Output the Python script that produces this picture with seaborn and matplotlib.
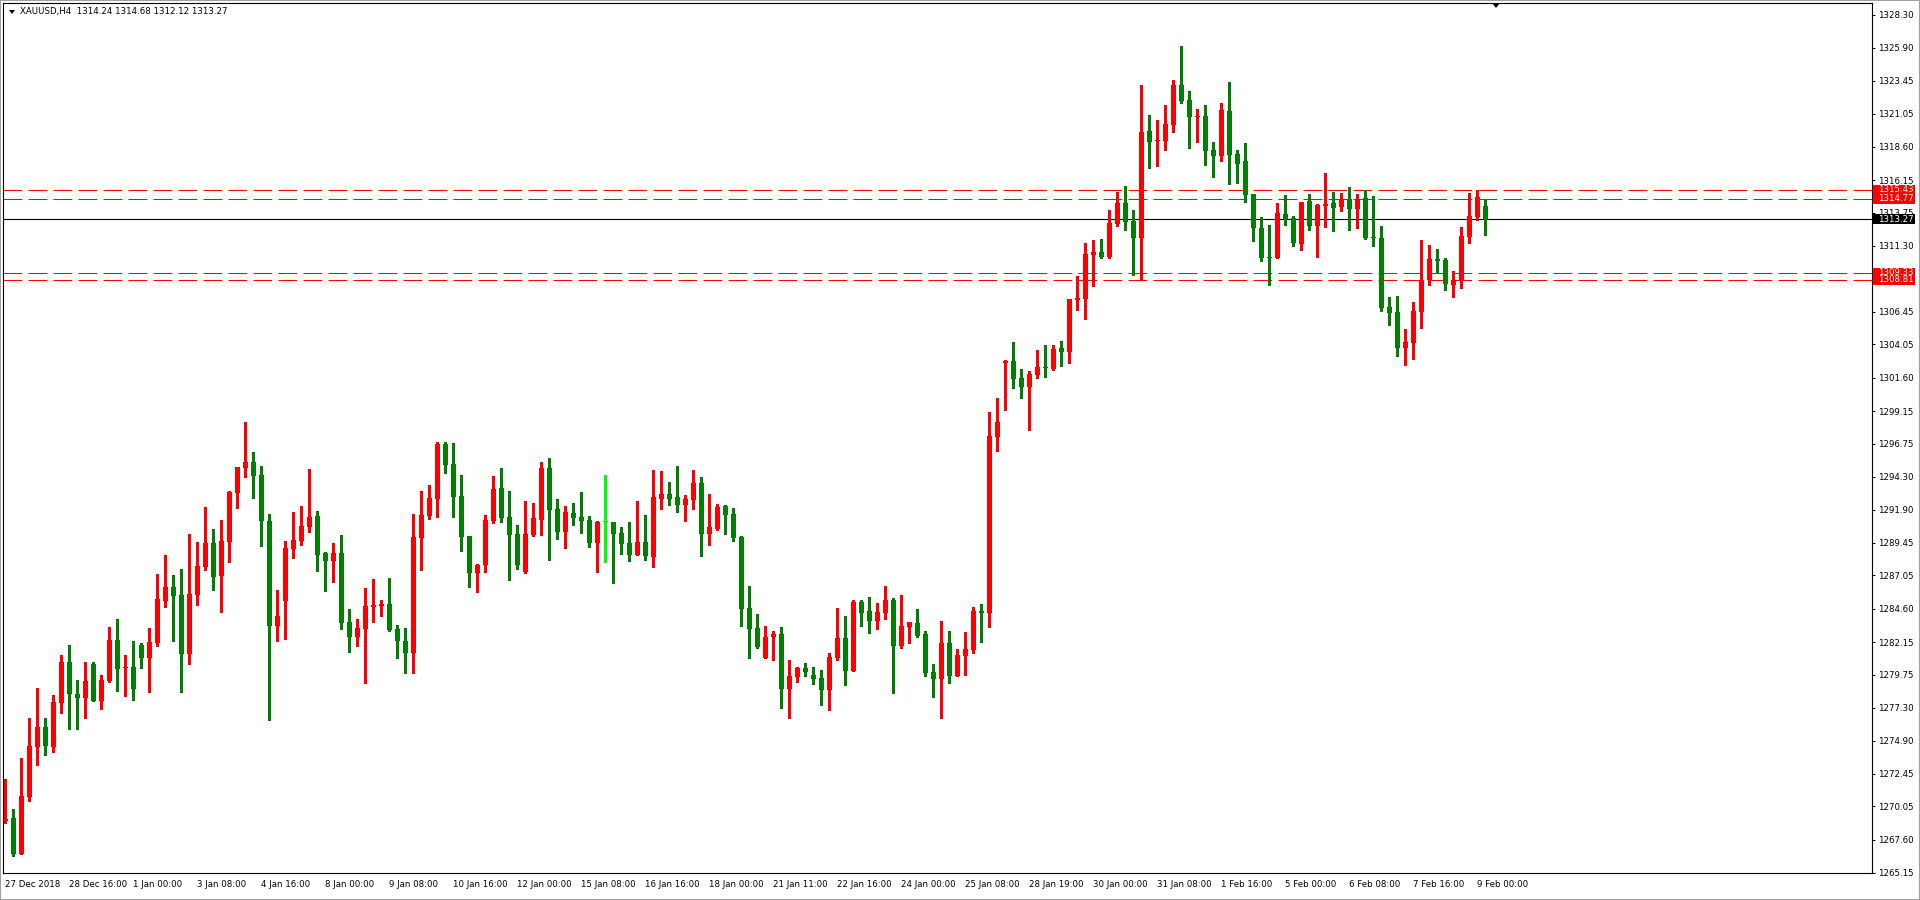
import numpy as np
import pandas as pd
import matplotlib
matplotlib.use("Agg")
import matplotlib.pyplot as plt
import seaborn as sns
from matplotlib.patches import Rectangle, Polygon
import matplotlib.transforms as mtransforms

# ---------------- data (XAUUSD, H4) ----------------
opens = [1269.00, 1269.20, 1266.55, 1270.77, 1274.45, 1275.90, 1274.45, 1277.69, 1280.68, 1278.32,
         1278.05, 1280.53, 1277.83, 1279.28, 1282.30, 1280.26, 1280.31, 1281.93, 1281.00, 1282.08,
         1285.17, 1286.20, 1285.61, 1281.27, 1285.61, 1287.67, 1289.44, 1287.01, 1289.51, 1293.12,
         1294.96, 1295.40, 1294.44, 1291.06, 1283.33, 1285.17, 1289.00, 1289.58, 1290.61, 1291.42,
         1288.70, 1288.11, 1288.70, 1283.62, 1282.52, 1283.11, 1284.73, 1284.80, 1284.95, 1283.11,
         1282.23, 1281.34, 1289.80, 1291.42, 1292.67, 1296.72, 1295.25, 1292.89, 1289.95, 1287.23,
         1287.82, 1291.06, 1293.48, 1291.36, 1290.11, 1287.31, 1290.03, 1291.14, 1294.96, 1291.95,
         1290.25, 1291.65, 1291.36, 1291.14, 1289.44, 1290.96, 1290.99, 1290.18, 1289.44, 1288.56,
         1289.52, 1288.41, 1292.68, 1293.05, 1292.83, 1292.24, 1292.61, 1293.86, 1290.11, 1290.47,
         1292.17, 1291.58, 1289.89, 1284.66, 1283.19, 1280.98, 1282.53, 1282.75, 1278.70, 1279.58,
         1280.25, 1279.73, 1279.51, 1278.63, 1280.98, 1282.45, 1280.03, 1285.10, 1284.44, 1283.70,
         1284.29, 1285.25, 1281.87, 1283.26, 1283.56, 1282.75, 1279.95, 1279.44, 1282.09, 1279.66,
         1281.13, 1281.57, 1284.44, 1284.29, 1297.25, 1302.69, 1302.84, 1301.59, 1300.93, 1301.81,
         1302.40, 1302.25, 1303.80, 1303.50, 1307.33, 1307.40, 1310.64, 1310.86, 1310.50, 1312.92,
         1314.47, 1313.14, 1311.89, 1319.77, 1319.03, 1319.03, 1320.21, 1323.15, 1322.05, 1320.80,
         1320.87, 1318.37, 1317.93, 1321.24, 1318.07, 1317.56, 1315.13, 1312.63, 1310.49, 1310.42,
         1313.66, 1313.36, 1311.45, 1314.61, 1312.77, 1314.27, 1314.47, 1314.17, 1314.76, 1314.02,
         1314.83, 1311.96, 1311.89, 1306.81, 1306.44, 1303.80, 1304.16, 1306.44, 1308.80, 1310.34,
         1310.27, 1308.43, 1308.73, 1311.96, 1313.44, 1314.24]
highs = [1272.07, 1269.86, 1273.61, 1276.56, 1278.77, 1276.56, 1278.25, 1281.17, 1281.93, 1279.36,
         1280.68, 1280.68, 1279.72, 1283.25, 1283.84, 1281.19, 1282.23, 1282.08, 1283.18, 1287.16,
         1288.55, 1287.08, 1287.52, 1290.10, 1289.51, 1292.09, 1290.47, 1291.13, 1293.26, 1295.03,
         1298.34, 1296.13, 1295.10, 1291.57, 1285.98, 1289.58, 1291.72, 1292.16, 1294.88, 1291.79,
         1288.77, 1289.44, 1290.03, 1284.58, 1283.84, 1286.13, 1286.79, 1285.24, 1286.86, 1283.40,
         1283.18, 1291.57, 1293.26, 1293.71, 1296.87, 1296.87, 1296.80, 1294.44, 1289.95, 1287.89,
         1291.50, 1294.37, 1294.96, 1293.27, 1290.77, 1292.54, 1292.39, 1295.41, 1295.70, 1292.68,
         1292.17, 1292.39, 1293.20, 1291.43, 1291.06, 1294.45, 1290.99, 1290.62, 1290.99, 1292.54,
         1291.51, 1294.82, 1294.74, 1293.93, 1295.11, 1292.98, 1294.82, 1294.30, 1293.05, 1292.31,
         1292.24, 1292.02, 1289.96, 1286.28, 1284.22, 1283.34, 1282.97, 1283.26, 1280.84, 1280.32,
         1280.61, 1280.32, 1280.10, 1281.35, 1284.66, 1284.07, 1285.25, 1285.25, 1285.47, 1285.03,
         1286.28, 1285.40, 1285.62, 1283.63, 1284.59, 1282.97, 1280.54, 1283.70, 1282.97, 1281.65,
         1282.90, 1284.74, 1284.96, 1299.09, 1300.12, 1302.91, 1304.24, 1302.25, 1302.11, 1303.65,
         1304.02, 1304.02, 1304.31, 1307.40, 1309.10, 1311.53, 1311.75, 1311.82, 1313.95, 1315.28,
         1315.72, 1313.95, 1323.15, 1320.94, 1320.58, 1321.68, 1323.52, 1326.02, 1322.71, 1321.39,
         1321.68, 1318.96, 1321.83, 1323.37, 1318.37, 1318.88, 1315.13, 1313.44, 1312.85, 1314.47,
         1315.05, 1313.51, 1314.54, 1315.13, 1314.39, 1316.67, 1315.28, 1315.20, 1315.64, 1315.13,
         1315.42, 1314.98, 1312.77, 1307.55, 1307.62, 1305.19, 1307.18, 1311.74, 1311.38, 1311.08,
         1310.42, 1309.46, 1312.70, 1315.20, 1315.42, 1314.68]
lows = [1268.81, 1266.43, 1266.55, 1270.48, 1273.12, 1273.86, 1274.08, 1276.95, 1275.77, 1275.77,
        1276.56, 1277.83, 1277.24, 1279.21, 1278.57, 1278.20, 1277.91, 1280.26, 1278.50, 1281.86,
        1284.73, 1282.23, 1278.47, 1280.53, 1284.87, 1287.45, 1285.98, 1284.36, 1288.04, 1292.01,
        1294.30, 1292.75, 1289.22, 1276.41, 1282.25, 1282.37, 1288.33, 1289.29, 1290.25, 1287.38,
        1285.90, 1286.57, 1283.11, 1281.42, 1281.86, 1279.13, 1283.62, 1284.06, 1282.96, 1280.97,
        1279.87, 1279.87, 1287.45, 1291.20, 1291.35, 1294.59, 1291.35, 1288.85, 1286.20, 1285.83,
        1287.30, 1290.91, 1290.98, 1286.72, 1287.53, 1287.24, 1289.96, 1290.03, 1288.19, 1289.74,
        1289.08, 1290.77, 1290.18, 1289.15, 1287.31, 1288.05, 1286.50, 1288.63, 1288.12, 1288.56,
        1288.19, 1287.68, 1291.95, 1292.24, 1291.73, 1291.06, 1291.95, 1288.49, 1289.30, 1290.40,
        1290.11, 1289.59, 1283.34, 1280.98, 1281.72, 1280.98, 1280.84, 1277.30, 1276.57, 1279.22,
        1279.66, 1279.07, 1277.52, 1277.16, 1280.84, 1279.00, 1280.03, 1283.34, 1282.82, 1283.12,
        1283.85, 1278.41, 1281.72, 1282.09, 1282.53, 1279.66, 1278.11, 1276.57, 1279.14, 1279.66,
        1279.73, 1281.35, 1282.16, 1283.26, 1296.22, 1299.23, 1300.85, 1300.12, 1297.76, 1301.59,
        1301.66, 1302.18, 1302.47, 1302.69, 1306.59, 1305.93, 1308.36, 1310.42, 1310.42, 1312.78,
        1312.48, 1309.17, 1308.80, 1317.04, 1317.19, 1318.37, 1319.69, 1321.83, 1318.52, 1318.96,
        1317.27, 1316.38, 1317.56, 1315.87, 1315.94, 1314.54, 1311.67, 1310.20, 1308.43, 1310.42,
        1312.85, 1311.30, 1311.01, 1312.48, 1310.49, 1312.70, 1312.41, 1313.88, 1312.48, 1312.63,
        1311.82, 1311.30, 1306.52, 1305.49, 1303.21, 1302.54, 1302.99, 1305.27, 1308.43, 1309.31,
        1308.06, 1307.55, 1308.21, 1311.52, 1313.22, 1312.12]
closes = [1269.10, 1266.55, 1270.82, 1274.50, 1275.90, 1274.52, 1277.74, 1280.68, 1278.35, 1278.05,
          1279.28, 1277.83, 1279.36, 1282.30, 1280.19, 1280.31, 1278.72, 1281.00, 1282.15, 1285.32,
          1286.20, 1285.54, 1281.27, 1285.68, 1287.74, 1289.44, 1286.93, 1289.58, 1293.19, 1295.03,
          1295.40, 1294.37, 1291.06, 1283.33, 1284.06, 1289.07, 1289.66, 1290.69, 1291.35, 1288.55,
          1288.11, 1288.70, 1283.55, 1282.52, 1283.18, 1284.80, 1284.87, 1284.95, 1283.03, 1282.23,
          1281.34, 1289.88, 1291.50, 1292.75, 1296.72, 1295.18, 1292.82, 1289.88, 1287.23, 1287.82,
          1291.13, 1293.41, 1291.28, 1290.03, 1287.83, 1290.11, 1291.28, 1294.96, 1291.87, 1290.25,
          1291.73, 1291.28, 1291.06, 1289.44, 1290.99, 1290.96, 1290.11, 1289.37, 1288.56, 1289.52,
          1288.49, 1292.83, 1293.05, 1292.68, 1292.24, 1292.68, 1293.86, 1290.11, 1290.62, 1292.09,
          1291.51, 1289.81, 1284.59, 1283.12, 1281.79, 1282.53, 1282.75, 1278.70, 1279.66, 1280.25,
          1279.95, 1279.44, 1278.63, 1281.06, 1282.45, 1280.03, 1285.10, 1284.29, 1283.70, 1284.37,
          1285.25, 1281.87, 1283.34, 1283.63, 1282.60, 1279.88, 1279.44, 1282.09, 1279.66, 1281.20,
          1281.65, 1284.44, 1284.29, 1297.32, 1298.35, 1302.84, 1301.52, 1300.93, 1301.88, 1302.40,
          1302.33, 1303.72, 1303.50, 1307.40, 1307.48, 1310.72, 1310.86, 1310.50, 1313.00, 1314.47,
          1313.07, 1311.89, 1319.69, 1318.96, 1319.11, 1320.28, 1323.15, 1321.98, 1320.80, 1320.87,
          1318.30, 1317.93, 1321.31, 1318.00, 1317.34, 1315.06, 1312.63, 1310.42, 1310.42, 1313.73,
          1313.29, 1311.52, 1314.54, 1312.77, 1314.32, 1314.39, 1314.10, 1314.76, 1314.02, 1314.76,
          1311.89, 1311.91, 1306.74, 1306.37, 1303.80, 1304.24, 1306.52, 1308.80, 1310.34, 1310.22,
          1308.50, 1308.80, 1312.04, 1313.51, 1314.91, 1313.27]

xtick_labels = ["27 Dec 2018", "28 Dec 16:00", "1 Jan 00:00", "3 Jan 08:00", "4 Jan 16:00",
                "8 Jan 00:00", "9 Jan 08:00", "10 Jan 16:00", "12 Jan 00:00", "15 Jan 08:00",
                "16 Jan 16:00", "18 Jan 00:00", "21 Jan 11:00", "22 Jan 16:00", "24 Jan 00:00",
                "25 Jan 08:00", "28 Jan 19:00", "30 Jan 00:00", "31 Jan 08:00", "1 Feb 16:00",
                "5 Feb 00:00", "6 Feb 08:00", "7 Feb 16:00", "9 Feb 00:00"]
ytick_values = [1328.30, 1325.90, 1323.45, 1321.05, 1318.60, 1316.15, 1313.75, 1311.30, 1308.90,
                1306.45, 1304.05, 1301.60, 1299.15, 1296.75, 1294.30, 1291.90, 1289.45, 1287.05,
                1284.60, 1282.15, 1279.75, 1277.30, 1274.90, 1272.45, 1270.05, 1267.60, 1265.15]
level_prices = [1315.43, 1314.77, 1309.33, 1308.81]
last_price = 1313.27
title_text = "XAUUSD,H4  1314.24 1314.68 1312.12 1313.27"

# ---------------- style ----------------
sns.set_style("white")
plt.rcParams['font.family'] = ['DejaVu Sans']

UP = "#FF0000"
DOWN = "#008000"
DOJI = "#00FF00"

FW, FH = 1920, 900
fig = plt.figure(figsize=(FW / 100, FH / 100), dpi=100)
fig.patch.set_facecolor("white")

ax_l, ax_r, ax_t, ax_b = 3, 1872, 3, 873
ax = fig.add_axes([ax_l / FW, (FH - ax_b) / FH, (ax_r - ax_l) / FW, (ax_b - ax_t) / FH])
ax.set_facecolor("white")

bar_px = 8.0
px_per_price = 858 / 63.15
ymin = 1265.15
ymax = 1328.30 + 12 / px_per_price
x0_px = 5.3 - ax_l
xmin = -x0_px / bar_px
xmax = (ax_r - ax_l - x0_px) / bar_px

df = pd.DataFrame({"open": opens, "high": highs, "low": lows, "close": closes})
df["x"] = np.arange(len(df))
df["color"] = np.where(df["close"] > df["open"], UP,
                       np.where(df["close"] < df["open"], DOWN, DOJI))
df["bottom"] = df[["open", "close"]].min(axis=1)
df["height"] = (df["close"] - df["open"]).abs().clip(lower=1.0 / px_per_price)

# wicks
ax.vlines(df["x"], df["low"], df["high"], colors=df["color"], linewidth=0.8,
          antialiased=False, zorder=3)
# bodies
ax.bar(df["x"], df["height"], bottom=df["bottom"], width=5 / bar_px,
       color=df["color"], linewidth=0, antialiased=False, zorder=4)

# level lines
for p in level_prices:
    ax.axhline(p, color=UP, lw=0.75, dashes=(18, 6), zorder=2)
ax.axhline(last_price, color="black", lw=0.8, zorder=2)

ax.set_xlim(xmin, xmax)
ax.set_ylim(ymin, ymax)

# spines
for s in ax.spines.values():
    s.set_visible(True)
    s.set_color("black")
    s.set_linewidth(0.8)

# y axis on the right
ax.yaxis.tick_right()
ax.set_yticks(ytick_values)
ax.set_yticklabels([f"{v:.2f}" for v in ytick_values])
ax.tick_params(axis="y", which="both", direction="out", length=2.2, width=0.7,
               pad=2.0, labelsize=6.2, colors="black", left=False, right=True)

# x axis
ax.set_xticks(np.arange(0, 8 * len(xtick_labels), 8))
ax.set_xticklabels(xtick_labels)
for lab in ax.get_xticklabels():
    lab.set_ha("left")
ax.tick_params(axis="x", direction="out", length=3.0, width=0.7, pad=2.0,
               labelsize=6.2, colors="black")
ax.grid(False)

# price tags on the right axis
trans = mtransforms.blended_transform_factory(ax.transAxes, ax.transData)
ax_w_px = ax_r - ax_l
box_w = 42 / ax_w_px
box_h = 10 / px_per_price
tags = [(p, UP) for p in level_prices] + [(last_price, "black")]
for p, col in tags:
    ax.add_patch(Rectangle((1 + 1 / ax_w_px, p - box_h / 2), box_w, box_h,
                           transform=trans, clip_on=False, facecolor=col,
                           edgecolor="none", zorder=10))
    ax.text(1 + 6 / ax_w_px, p, f"{p:.2f}", transform=trans, color="white",
            fontsize=6.2, va="center", ha="left", clip_on=False, zorder=11)

ax.set_xlim(xmin, xmax)
ax.set_ylim(ymin, ymax)

# title and markers
fig.text(20 / FW, 1 - 11.7 / FH, title_text, fontsize=6.2, va="center", ha="left",
         color="black")


def px2fig(x, y):
    return (x / FW, 1 - y / FH)


fig.add_artist(Polygon([px2fig(9, 10), px2fig(15, 10), px2fig(12, 14)], closed=True,
                       transform=fig.transFigure, facecolor="black", edgecolor="none"))
fig.add_artist(Polygon([px2fig(1492, 3), px2fig(1500, 3), px2fig(1496, 8)], closed=True,
                       transform=fig.transFigure, facecolor="black", edgecolor="none"))
fig.add_artist(Rectangle((0, 0), 1, 1, transform=fig.transFigure, fill=False,
                         edgecolor="#A0A0A0", linewidth=1.5))

fig.savefig("out.png", dpi=100, facecolor="white")
